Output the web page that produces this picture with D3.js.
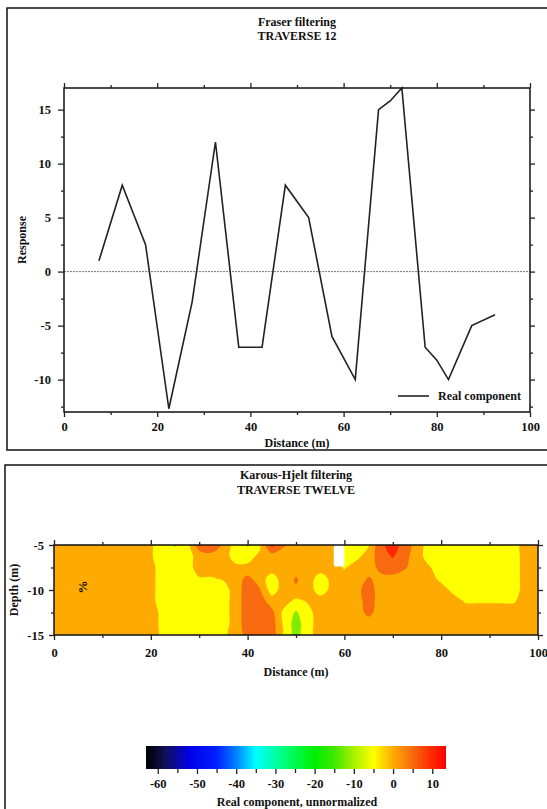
<!DOCTYPE html>
<html>
<head>
<meta charset="utf-8">
<script src="https://cdn.jsdelivr.net/npm/d3@7"></script>
<style>
  body { margin: 0; background: #fff; }
  text { font-family: 'Liberation Serif', 'Times New Roman', serif; font-weight: bold; fill: #111; }
</style>
</head>
<body>
<svg id="chart" width="547" height="809"></svg>
<script>
// Fraser filtering - traverse 12
const distances = [7.5, 12.5, 17.5, 22.5, 27.5, 32.5, 37.5, 42.5, 47.5, 52.5, 57.5, 62.5, 67.5, 70, 72.5, 77.5, 80, 82.5, 87.5, 92.5]
const response = [1, 8, 2.5, -12.7, -2.8, 12, -7, -7, 8, 5, -6, -10, 15, 15.8, 17, -7, -8.2, -10, -5, -4]
const distanceTicks = [0, 20, 40, 60, 80, 100]
const distanceMinor = [10, 30, 50, 70, 90]
const responseTicks = [-10, -5, 0, 5, 10, 15]
const responseMinor = [-12.5, -7.5, -2.5, 2.5, 7.5, 12.5]

// Karous-Hjelt filtering - one row per depth, one column per distance
const gridDistances = [0, 2.5, 5, 7.5, 10, 12.5, 15, 17.5, 20, 22.5, 25, 27.5, 30, 32.5, 35, 37.5, 40, 42.5, 45, 47.5, 50,
  52.5, 55, 57.5, 60, 62.5, 65, 67.5, 70, 72.5, 75, 77.5, 80, 82.5, 85, 87.5, 90, 92.5, 95, 97.5, 100]
const gridDepths = [-5, -6.25, -7.5, -8.75, -10, -11.25, -12.5, -13.75, -15]
const sectionValues = [
  [0, 0, 0, 0, 0, 0, 0, 0, -2, -5, -11, -5, 5, 8, 1, -5, -11, -4, 9, 3, 0, 0, 0, 0, -5, -5, -3, 6, 10, 5, 0, -5, -5, -5, -5, -5, -5, -5, -5, 0, 0],
  [0, 0, 0, 0, 0, 0, 0, 0, -2, -5, -5, -5, 0, 0, 0, -5, -5, -1, 0, 0, 0, 0, 0, 0, -5, -4, 0, 5, 8, 4, 0, -5, -5, -5, -5, -5, -5, -5, -5, 0, 0],
  [0, 0, 0, 0, 0, 0, 0, 0, -1, -5, -5, -5, 0, 0, 0, -1, -1, 0, 0, 0, 0, 0, 0, 0, -3, 0, 0, 4, 5, 3, 0, -2, -5, -5, -5, -5, -5, -5, -5, 0, 0],
  [0, 0, 0, 0, 0, 0, 0, 0, -1, -5, -5, -5, -3, -3, -2, 0, 4, 0, -5, 0, 3, 0, -5, -1, 0, 0, 3, 1, 1, 0, 0, 0, -4, -5, -5, -5, -5, -5, -5, 0, 0],
  [0, 0, 0, 0, 0, 0, 0, 0, -1, -5, -5, -5, -5, -5, -5, 0, 5, 3, -5, 0, 2, 0, -5, -1, 0, 1, 5, 0, 0, 0, 0, 0, 0, -4, -5, -5, -5, -5, -5, 0, 0],
  [0, 0, 0, 0, 0, 0, 0, 0, -1, -5, -5, -5, -5, -5, -5, 0, 5, 5, 0, 0, -4, -2, 0, 0, 0, 0, 5, 0, 0, 0, 0, 0, 0, 0, -3, -3, -3, -3, -3, 0, 0],
  [0, 0, 0, 0, 0, 0, 0, 0, 0, -4, -5, -5, -5, -5, -5, 0, 5, 5, 4, -4, -11, -4, 0, 0, 0, 0, 4, 0, 0, 0, 0, 0, 0, 0, 0, 0, 0, 0, 0, 0, 0],
  [0, 0, 0, 0, 0, 0, 0, 0, 0, -4, -5, -5, -5, -5, -5, 0, 5, 5, 5, -3.5, -14, -4.5, 0, 0, 0, 0, 0, 0, 0, 0, 0, 0, 0, 0, 0, 0, 0, 0, 0, 0, 0],
  [0, 0, 0, 0, 0, 0, 0, 0, 0, -4, -5, -5, -5, -5, -4, 0, 4, 5, 5, -3.5, -14, -4.5, 0, 0, 0, 0, 0, 0, 0, 0, 0, 0, 0, 0, 0, 0, 0, 0, 0, 0, 0]
]
// white (blanked) patch: [distance from, distance to, depth from, depth to]
const blankedZone = [57.8, 60, -5, -7.4]
const bandThresholds = [-10, -2.5, 2.5, 7.5]
const bandValues = [-12, -5, 0, 5, 10]
const sectionXTicks = [0, 20, 40, 60, 80, 100]
const sectionXMinor = [10, 30, 50, 70, 90]
const sectionYTicks = [-5, -10, -15]
const sectionYMinor = [-7.5, -12.5]

// colour bar
const colorStops = [-63, -58, -52, -45, -40, -35, -28, -20, -15, -10, -5, 0, 5, 10, 13.5]
const colorNames = ['#000000', '#12105a', '#0000e6', '#0020ff', '#0080ff', '#00ffff', '#00ff80', '#00f000', '#40e800',
  '#a8f000', '#ffff00', '#ffaa00', '#f86a10', '#ff2800', '#ff0000']
const colorbarTicks = [-60, -50, -40, -30, -20, -10, 0, 10]
const colorbarMinor = [-55, -45, -35, -25, -15, -5, 5]

const svg = d3.select('#chart')
const color = d3.scaleLinear().domain(colorStops).range(colorNames).clamp(true)

function frame (x, y, w, h) {
  svg.append('rect')
    .attr('x', x).attr('y', y).attr('width', w).attr('height', h)
    .attr('fill', 'none').attr('stroke', '#111').attr('stroke-width', 1.5)
}

function ticks (axis, values, size, pos, label, pad = 5) {
  const g = svg.append('g')
    .attr('transform', pos)
    .call(axis.tickValues(values).tickSize(size).tickPadding(pad).tickFormat(label ? d => String(d) : ''))
  g.select('.domain').remove()
  g.selectAll('line').attr('stroke', '#222').attr('stroke-width', 1.3)
  g.selectAll('text').attr('font-size', 12.5).attr('font-family', null).style('fill', '#111')
  return g
}

// ---------- top panel ----------
frame(7, 8, 570, 442)
const x = d3.scaleLinear().domain([0, 100]).range([64, 530])
const y = d3.scaleLinear().domain([-13, 17]).range([412, 88])

svg.append('text').attr('x', 297).attr('y', 26).attr('text-anchor', 'middle').attr('font-size', 12).text('Fraser filtering')
svg.append('text').attr('x', 297).attr('y', 40).attr('text-anchor', 'middle').attr('font-size', 12).text('TRAVERSE 12')

svg.append('line')
  .attr('x1', x(0)).attr('x2', x(100)).attr('y1', y(0)).attr('y2', y(0))
  .attr('stroke', '#777').attr('stroke-width', 1).attr('stroke-dasharray', '2,1')

const line = d3.line().x((d, i) => x(distances[i])).y(d => y(d))
svg.append('path')
  .datum(response)
  .attr('d', line)
  .attr('fill', 'none')
  .attr('stroke', '#222')
  .attr('stroke-width', 1.6)

frame(x(0), y(17), x(100) - x(0), y(-13) - y(17))
ticks(d3.axisBottom(x), distanceTicks, 5, `translate(0,${y(-13)})`, true)
ticks(d3.axisBottom(x), distanceMinor, 3, `translate(0,${y(-13)})`, false)
ticks(d3.axisTop(x), distanceTicks, 5, `translate(0,${y(17)})`, false)
ticks(d3.axisTop(x), distanceMinor, 3, `translate(0,${y(17)})`, false)
ticks(d3.axisLeft(y), responseTicks, 6, `translate(${x(0)},0)`, true, 7)
ticks(d3.axisLeft(y), responseMinor, 3, `translate(${x(0)},0)`, false)
ticks(d3.axisRight(y), responseTicks, 5, `translate(${x(100)},0)`, false)
ticks(d3.axisRight(y), responseMinor, 3, `translate(${x(100)},0)`, false)

svg.append('text').attr('x', 297).attr('y', 447).attr('text-anchor', 'middle').attr('font-size', 12).text('Distance (m)')
svg.append('text').attr('transform', 'translate(26,240) rotate(-90)').attr('text-anchor', 'middle').attr('font-size', 12).text('Response')

// legend
svg.append('line').attr('x1', 398).attr('x2', 429).attr('y1', 396).attr('y2', 396).attr('stroke', '#222').attr('stroke-width', 1.6)
svg.append('text').attr('x', 438).attr('y', 400).attr('font-size', 12).text('Real component')

// ---------- bottom panel ----------
frame(5, 465, 570, 400)
const x2 = d3.scaleLinear().domain([0, 100]).range([54, 538])
const y2 = d3.scaleLinear().domain([-5, -15]).range([545, 635])

svg.append('text').attr('x', 296).attr('y', 479).attr('text-anchor', 'middle').attr('font-size', 12).text('Karous-Hjelt filtering')
svg.append('text').attr('x', 296).attr('y', 494).attr('text-anchor', 'middle').attr('font-size', 12).text('TRAVERSE TWELVE')

svg.append('clipPath').attr('id', 'section-clip')
  .append('rect')
  .attr('x', x2(0)).attr('y', y2(-5)).attr('width', x2(100) - x2(0)).attr('height', y2(-15) - y2(-5))

// grid cell centres sit at index + 0.5 in contour space
const gi = d3.scaleLinear().domain([0.5, gridDistances.length - 0.5]).range([gridDistances[0], gridDistances[gridDistances.length - 1]])
const gj = d3.scaleLinear().domain([0.5, gridDepths.length - 0.5]).range([gridDepths[0], gridDepths[gridDepths.length - 1]])
// rounded rings, like the gridded map
const ringLine = d3.line()
  .x(p => x2(gi(p[0])))
  .y(p => y2(gj(p[1])))
  .curve(d3.curveCatmullRomClosed.alpha(0.5))
const bands = d3.contours()
  .size([gridDistances.length, gridDepths.length])
  .thresholds(bandThresholds)(sectionValues.flat())

const section = svg.append('g').attr('clip-path', 'url(#section-clip)')
section.append('rect')
  .attr('x', x2(0)).attr('y', y2(-5)).attr('width', x2(100) - x2(0)).attr('height', y2(-15) - y2(-5))
  .attr('fill', color(bandValues[0]))
section.selectAll('path')
  .data(bands)
  .join('path')
  .attr('d', d => d.coordinates.map(poly => poly.map(ring => ringLine(ring.slice(0, -1))).join('')).join(''))
  .attr('fill', (d, i) => color(bandValues[i + 1]))
section.append('rect')
  .attr('x', x2(blankedZone[0])).attr('y', y2(blankedZone[2]))
  .attr('width', x2(blankedZone[1]) - x2(blankedZone[0]))
  .attr('height', y2(blankedZone[3]) - y2(blankedZone[2]))
  .attr('rx', 2)
  .attr('fill', '#fff')

frame(x2(0), y2(-5), x2(100) - x2(0), y2(-15) - y2(-5))
ticks(d3.axisBottom(x2), sectionXTicks, 5, `translate(0,${y2(-15)})`, true, 8)
ticks(d3.axisBottom(x2), sectionXMinor, 3, `translate(0,${y2(-15)})`, false)
ticks(d3.axisTop(x2), sectionXTicks, 5, `translate(0,${y2(-5)})`, false)
ticks(d3.axisTop(x2), sectionXMinor, 3, `translate(0,${y2(-5)})`, false)
ticks(d3.axisLeft(y2), sectionYTicks, 5, `translate(${x2(0)},0)`, true)
ticks(d3.axisLeft(y2), sectionYMinor, 3, `translate(${x2(0)},0)`, false)
ticks(d3.axisRight(y2), sectionYTicks, 5, `translate(${x2(100)},0)`, false)
ticks(d3.axisRight(y2), sectionYMinor, 3, `translate(${x2(100)},0)`, false)

svg.append('text').attr('x', 296).attr('y', 676).attr('text-anchor', 'middle').attr('font-size', 12).text('Distance (m)')
svg.append('text').attr('transform', 'translate(18,590) rotate(-90)').attr('text-anchor', 'middle').attr('font-size', 12).text('Depth (m)')
svg.append('text').attr('transform', 'translate(87,587) rotate(-90)').attr('text-anchor', 'middle').attr('font-size', 13).text('%')

// colour bar
const cx = d3.scaleLinear().domain([colorStops[0], colorStops[colorStops.length - 1]]).range([146, 446])
const grad = svg.append('defs').append('linearGradient').attr('id', 'cbar')
grad.selectAll('stop')
  .data(colorStops)
  .join('stop')
  .attr('offset', d => (cx(d) - cx.range()[0]) / (cx.range()[1] - cx.range()[0]))
  .attr('stop-color', (d, i) => colorNames[i])
svg.append('rect')
  .attr('x', cx.range()[0]).attr('y', 746)
  .attr('width', cx.range()[1] - cx.range()[0]).attr('height', 23)
  .attr('fill', 'url(#cbar)')
ticks(d3.axisBottom(cx), colorbarTicks, 5, 'translate(0,769)', true)
ticks(d3.axisBottom(cx), colorbarMinor, 4, 'translate(0,769)', false)
svg.append('text').attr('x', 297).attr('y', 806).attr('text-anchor', 'middle').attr('font-size', 12).text('Real component, unnormalized')
</script>
</body>
</html>
